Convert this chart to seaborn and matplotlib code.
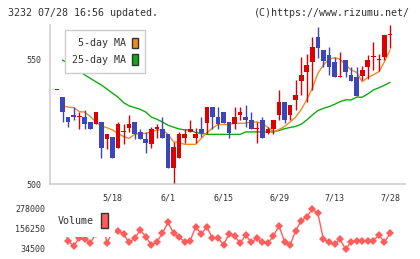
import numpy as np
import pandas as pd
import matplotlib
matplotlib.use("Agg")
import matplotlib.pyplot as plt
from matplotlib.patches import Patch, Rectangle
import seaborn as sns

# daily prices (open, high, low, close)
opens = [538, 535, 527, 528, 527, 527, 525, 524, 525, 518, 519, 514.5, 521, 522.7, 525, 521, 518, 516, 522, 522,
         520, 506.6, 510.6, 518.7, 521, 518.7, 522, 524.7, 531, 527, 529, 525, 524, 528, 527, 526, 522, 526, 520.7, 522,
         528, 533, 528, 533.7, 541.5, 545, 549, 559.3, 554, 552, 549.2, 543, 550, 543.8, 543, 543.5, 547, 551, 550, 551, 560]
highs = [538, 535, 527, 531, 529, 530, 525, 529, 525, 520, 519, 525, 524, 528, 525, 522, 521, 523, 524, 527,
         520, 517, 521, 522, 526, 522.7, 527, 531, 531, 531, 529, 525, 531, 531, 531.7, 529, 525, 527, 523, 526,
         537.8, 533, 531.7, 542, 551.2, 552.3, 559.3, 563.4, 554, 555.2, 551, 553.2, 550, 547.2, 547, 547.5, 552, 557.3, 552.5, 560, 564.1]
lows = [538, 525, 523, 526, 522, 522, 522, 524, 510.5, 514, 510.5, 514.5, 516, 521, 518, 518, 512.6, 514.6, 518.7, 518.7,
        506.6, 500.5, 510.6, 516.7, 521, 516.7, 519, 520, 522, 522, 524.7, 518.7, 522, 526, 523, 522, 516.7, 518.7, 520, 520,
        526, 524.7, 526, 530, 535.8, 533, 538, 550.9, 547, 544, 543, 543, 543, 541.5, 535.5, 542, 542.5, 546, 545.6, 550, 555]
closes = [538, 529, 525, 527, 527, 524, 522, 529, 514.5, 520, 510.5, 524, 521, 524, 520, 518, 516.7, 522, 523, 518.7,
          506.6, 515, 520, 520, 522, 520, 520.7, 531, 527, 524, 524.7, 520.7, 527, 529, 526, 522, 522, 518.7, 522, 526,
          533, 526, 531.7, 535.9, 543.8, 548, 555.2, 555, 549.6, 547, 543, 543, 545, 541.5, 535.5, 546, 550, 551, 550, 560, 560]

ma5 = [np.nan, 531.5, 531, 530.8, 529.2, 529, 527.2, 525.1, 523.4, 522.7, 521.8, 520.4, 519.1, 518.4, 520, 520.4,
       520.4, 521, 521.8, 521.8, 520, 517, 516.7, 516, 516, 516, 518.4, 520.7, 522.5, 524, 524, 524, 524.5, 524.5,
       524.5, 525, 525, 524.5, 522.8, 521, 522, 523.2, 525, 527, 530, 534, 538.6, 544.6, 548, 550.3, 550.9, 550.3,
       548, 546, 545, 541.2, 543, 544, 545.3, 549.3, 554]
ma25 = [np.nan, 550, 548.5, 547, 545.5, 544, 542.6, 541.2, 539.9, 538.3, 536.6, 535, 532.8, 531.5, 530.8, 530.1,
        529, 527, 526.1, 525, 523.7, 522.9, 522.2, 521.8, 521.8, 520.7, 520.4, 520, 520, 520, 520, 520, 520, 520,
        521, 521, 521, 521, 521, 521, 521.6, 522.3, 522.8, 523.2, 524.1, 525.8, 527.8, 529.6, 530.5, 531.2, 532.1,
        533.2, 533.9, 533.9, 535, 535, 536.3, 537.9, 538.8, 539.8, 541]

volume = [180000, 190000, 85000, 52800, 99600, 93500, 72900, 125000, 230000, 72900, 135000, 145900, 124000, 75300,
          99600, 150200, 109400, 58800, 78900, 130000, 197000, 130000, 105700, 78900, 85000, 170300, 125800, 170300,
          99600, 103300, 58800, 125800, 115500, 69200, 119700, 75300, 99600, 75300, 69200, 113600, 176300, 78900,
          58800, 145900, 206800, 231100, 276200, 251800, 93500, 75300, 64900, 93500, 32700, 78900, 85000, 85000,
          85000, 85000, 119700, 75300, 130000]

date_labels = ["5/18", "6/1", "6/15", "6/29", "7/13", "7/28"]
date_index = [10, 20, 30, 40, 50, 60]

price_ticks = [500, 550]
vol_ticks = [34500, 156250, 278000]

RED = "#dd0000"
BLUE = "#3c46bb"
ORANGE = "#f08c1e"
GREEN = "#11aa11"
VOLC = "#ff5c5c"
GRID = "#d0d0d0"
TXT = "#333333"

df = pd.DataFrame({"open": opens, "high": highs, "low": lows, "close": closes,
                   "ma5": ma5, "ma25": ma25, "volume": volume})
df["idx"] = np.arange(len(df))

sns.set_style("white")
plt.rcParams["font.family"] = ["DejaVu Sans Mono", "DejaVu Sans"]

W, H = 420, 259
fig = plt.figure(figsize=(W / 100, H / 100), dpi=100)


def box(l, t, r, b):
    # pixel box -> figure fraction
    return [l / W, 1 - b / H, (r - l) / W, (b - t) / H]


ax = fig.add_axes(box(50, 25, 405, 184))
axv = fig.add_axes(box(50, 205, 405, 253))
xlim = (-1.26, 62.7)

# moving averages
sns.lineplot(data=df, x="idx", y="ma25", color=GREEN, lw=1, ax=ax, legend=False, zorder=2)
sns.lineplot(data=df, x="idx", y="ma5", color=ORANGE, lw=1, ax=ax, legend=False, zorder=2)

# candles
up = df["close"] >= df["open"]
colors = np.where(up, RED, BLUE)
ax.vlines(df["idx"], df["low"], df["high"], colors=colors, lw=1, zorder=3)
ax.bar(df["idx"], np.maximum((df["close"] - df["open"]).abs(), 0.5),
       bottom=np.minimum(df["open"], df["close"]), width=0.84, color=colors, lw=0, zorder=4)

ax.set_xlim(*xlim)
ax.set_ylim(500, 564.1)
ax.set_xlabel("")
ax.set_ylabel("")
ax.set_yticks(price_ticks)
ax.set_yticklabels([str(t) for t in price_ticks])
ax.set_xticks(date_index)
ax.set_xticklabels(date_labels)
ax.set_xticks(np.linspace(xlim[0], xlim[1], 12), minor=True)
ax.tick_params(axis="x", which="major", length=0, pad=7, labelsize=6, labelcolor=TXT)
ax.tick_params(axis="x", which="minor", direction="out", length=4.5, width=1.2, color=GRID)
ax.tick_params(axis="y", direction="inout", length=6, width=1.2, color=GRID, pad=3.5,
               labelsize=6, labelcolor=TXT)
sns.despine(ax=ax)
for s in ["left", "bottom"]:
    ax.spines[s].set_color(GRID)
    ax.spines[s].set_linewidth(1.2)

handles = [Patch(fc=ORANGE, ec=TXT, lw=1, label="5-day MA"),
           Patch(fc=GREEN, ec=TXT, lw=1, label="25-day MA")]
leg = ax.legend(handles=handles, loc="upper left", bbox_to_anchor=(15 / 355, 154 / 159),
                borderaxespad=0, markerfirst=False, fontsize=7.2, handlelength=0.6,
                handleheight=1.3, handletextpad=0.5, labelspacing=0.6, borderpad=0.75,
                frameon=True, fancybox=False, framealpha=1, edgecolor="#cccccc")
leg.get_frame().set_linewidth(1)
for t in leg.get_texts():
    t.set_color(TXT)

# volume panel
sns.lineplot(data=df, x="idx", y="volume", color=VOLC, lw=1, marker="D", markersize=4.5,
             markeredgewidth=0, ax=axv, legend=False)
axv.set_xlim(*xlim)
axv.set_ylim(10150, 302350)
axv.set_xlabel("")
axv.set_ylabel("")
axv.set_xticks([])
axv.set_yticks(vol_ticks)
axv.set_yticklabels([str(t) for t in vol_ticks])
axv.tick_params(axis="y", length=0, pad=3.5, labelsize=6, labelcolor=TXT)
for s in axv.spines.values():
    s.set_visible(False)

fig.add_artist(Rectangle((50 / W, 1 - 237 / H), 65 / W, 28 / H, transform=fig.transFigure,
                         fc="white", ec="none", zorder=5))
fig.text(58 / W, 1 - 221 / H, "Volume", va="center", fontsize=7.2, color=TXT, zorder=6)
fig.add_artist(Rectangle((101 / W, 1 - 228 / H), 7 / W, 15 / H, transform=fig.transFigure,
                         fc=VOLC, ec=TXT, lw=1, zorder=6))

fig.text(8 / W, 1 - 13 / H, "3232 07/28 16:56 updated.", va="center", fontsize=7.2, color=TXT)
fig.text(410 / W, 1 - 13 / H, "(C)https://www.rizumu.net/", va="center", ha="right",
         fontsize=7.2, color=TXT)

fig.savefig("out.png", dpi=100)
